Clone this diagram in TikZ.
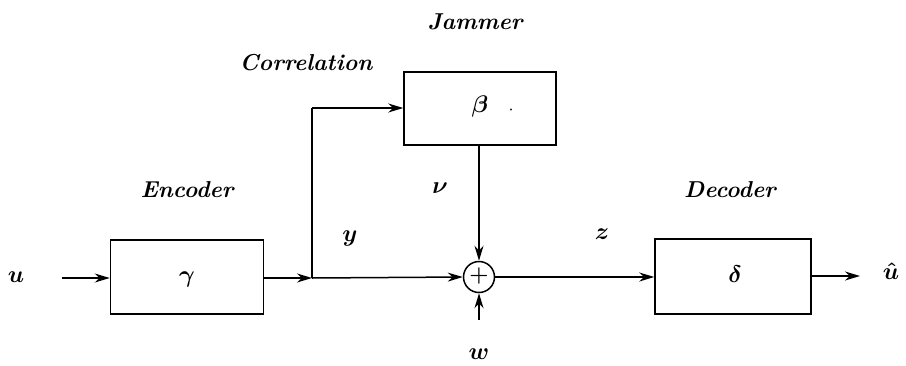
\documentclass[tikz,border=0pt]{standalone}
\usepackage{fix-cm}
\usepackage{amsmath,bm}
\usepackage{fontspec}
\usetikzlibrary{arrows.meta}
\begin{document}
\begin{tikzpicture}[x=1pt,y=-1pt,
  blk/.style={draw,line width=1.5pt,minimum width=153pt,minimum height=74pt,inner sep=0pt},
  lbl/.style={font=\fontsize{23}{25}\selectfont\bfseries\itshape,inner sep=0pt},
  sym/.style={font=\fontsize{24}{26}\selectfont\boldmath,inner sep=0pt},
  conn/.style={line width=1.5pt},
  arr/.style={conn,-{Stealth[length=15pt,width=9pt]}},
  sumc/.style={draw,circle,line width=1.5pt,minimum size=31pt,inner sep=0pt}]
\useasboundingbox (0,0) rectangle (906,365);
\node[blk] (enc) at (187,277) {};
\node[sym] (gam) at (187,279) {$\gamma$};
\node[blk,minimum width=152pt,minimum height=73pt] (jam) at (480,108.5) {};
\node[sym] (bet) at (480,106) {$\beta$};
\node[inner sep=0pt,font=\fontsize{18}{20}\selectfont] (dot) at (511,110) {$\cdot$};
\node[blk,minimum width=156pt,minimum height=75pt] (dec) at (733,276.5) {};
\node[sym] (del) at (735,274) {$\delta$};
\node[sumc] (sum) at (479,277) {};
\node[font=\fontsize{22}{24}\selectfont\bfseries,inner sep=0pt] (plus) at (479,276) {+};
\coordinate (uin) at (62,278);
\coordinate (br) at (312,278);
\coordinate (brtop) at (312,108);
\coordinate (win) at (479,320);
\coordinate (uout) at (860,276);
\node[sym] (u) at (16,277) {$u$};
\node[sym] (uh) at (891,271) {$\hat{u}$};
\node[sym] (y) at (350,238) {$y$};
\node[sym] (z) at (602,234) {$z$};
\node[sym] (nu) at (440,188) {$\nu$};
\node[sym] (w) at (479,354) {$w$};
\node[lbl] (encl) at (187,190) {Encoder};
\node[lbl] (decl) at (730,190) {Decoder};
\node[lbl] (jaml) at (475,22) {Jammer};
\node[lbl] (corl) at (306,63) {Correlation};
\draw[arr] (uin) -- (enc.west |- uin);
\draw[arr] (enc.east |- br) -- (br);
\draw[conn] (br) -- (brtop);
\draw[arr] (brtop) -- (jam.west |- brtop);
\draw[arr] (br) -- (sum.west);
\draw[arr] (jam.south -| sum) -- (sum.north);
\draw[arr] (win) -- (sum.south);
\draw[arr] (sum.east) -- (dec.west |- sum);
\draw[arr] (dec.east |- uout) -- (uout);
\end{tikzpicture}
\end{document}
